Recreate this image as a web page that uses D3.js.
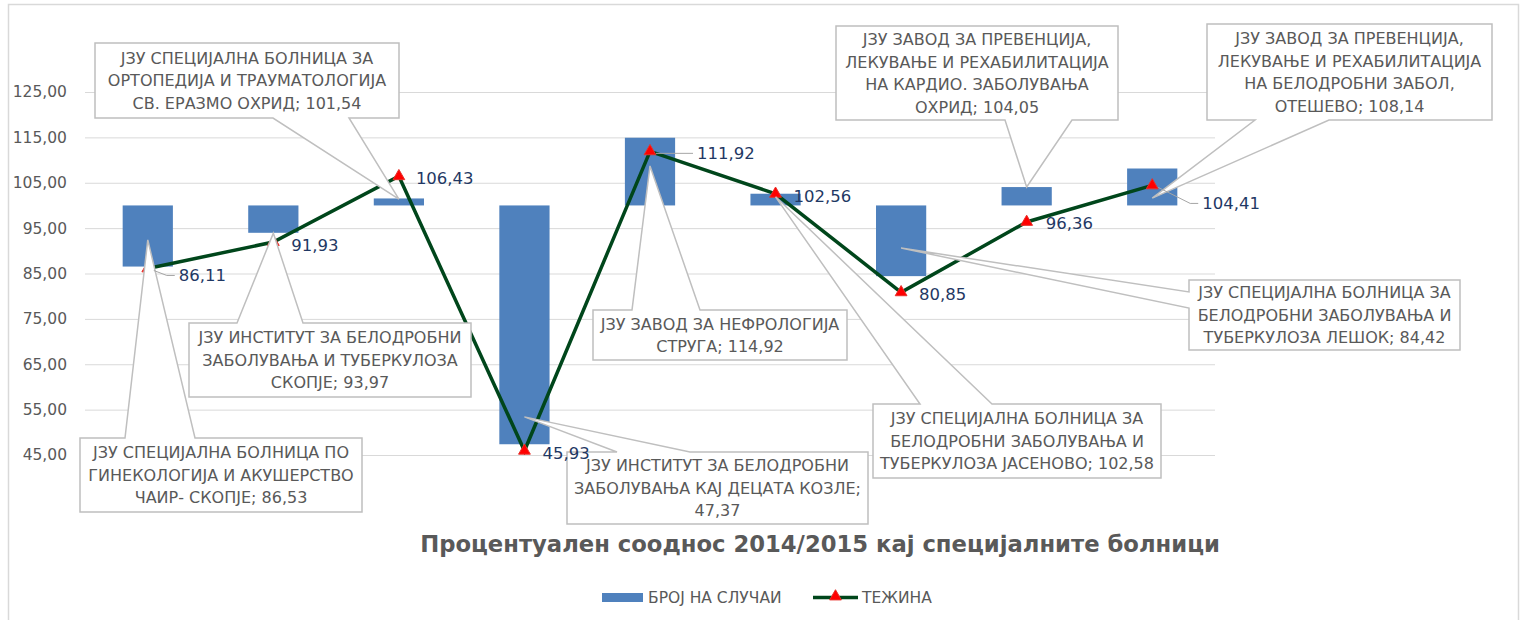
<!DOCTYPE html>
<html>
<head>
<meta charset="utf-8">
<script src="https://cdn.jsdelivr.net/npm/d3@7"></script>
<style>
  body { margin: 0; background: #fff; }
  svg text { font-family: "DejaVu Sans", sans-serif; }
</style>
</head>
<body>
<svg id="chart" width="1526" height="620"></svg>
<script>
// data
var hospitals = [
  'ЈЗУ СПЕЦИЈАЛНА БОЛНИЦА ПО\nГИНЕКОЛОГИЈА И АКУШЕРСТВО\nЧАИР- СКОПЈЕ',
  'ЈЗУ ИНСТИТУТ ЗА БЕЛОДРОБНИ\nЗАБОЛУВАЊА И ТУБЕРКУЛОЗА\nСКОПЈЕ',
  'ЈЗУ СПЕЦИЈАЛНА БОЛНИЦА ЗА\nОРТОПЕДИЈА И ТРАУМАТОЛОГИЈА\nСВ. ЕРАЗМО ОХРИД',
  'ЈЗУ ИНСТИТУТ ЗА БЕЛОДРОБНИ\nЗАБОЛУВАЊА КАЈ ДЕЦАТА КОЗЛЕ',
  'ЈЗУ ЗАВОД ЗА НЕФРОЛОГИЈА\nСТРУГА',
  'ЈЗУ СПЕЦИЈАЛНА БОЛНИЦА ЗА\nБЕЛОДРОБНИ ЗАБОЛУВАЊА И\nТУБЕРКУЛОЗА ЈАСЕНОВО',
  'ЈЗУ СПЕЦИЈАЛНА БОЛНИЦА ЗА\nБЕЛОДРОБНИ ЗАБОЛУВАЊА И\nТУБЕРКУЛОЗА ЛЕШОК',
  'ЈЗУ ЗАВОД ЗА ПРЕВЕНЦИЈА,\nЛЕКУВАЊЕ И РЕХАБИЛИТАЦИЈА\nНА КАРДИО. ЗАБОЛУВАЊА\nОХРИД',
  'ЈЗУ ЗАВОД ЗА ПРЕВЕНЦИЈА,\nЛЕКУВАЊЕ И РЕХАБИЛИТАЦИЈА\nНА БЕЛОДРОБНИ ЗАБОЛ,\nОТЕШЕВО'
]
var cases = [86.53, 93.97, 101.54, 47.37, 114.92, 102.58, 84.42, 104.05, 108.14]
var weights = [86.11, 91.93, 106.43, 45.93, 111.92, 102.56, 80.85, 96.36, 104.41]
var yTicks = [45, 55, 65, 75, 85, 95, 105, 115, 125]
var seriesNames = ['БРОЈ НА СЛУЧАИ', 'ТЕЖИНА']
var title = 'Процентуален сооднос 2014/2015 кај специјалните болници'
var BASE = 100

// callout layout (pixels), anchor given as a value on the y axis
var callouts = [
  { box: [80, 438, 282, 74], side: 'top', base: [125, 195], at: 92.4 },
  { box: [189, 323, 282, 74], side: 'top', base: [237, 303], at: 93.9 },
  { box: [95, 43, 304, 75], side: 'bottom', base: [273, 349], at: 101.4 },
  { box: [567, 452, 301, 72], side: 'top', base: [617, 690], at: 53.4, valueLine: true },
  { box: [593, 310, 254, 50], side: 'top', base: [632, 700], at: 108.7 },
  { box: [873, 404, 288, 74], side: 'top', base: [920, 992], at: 101.9 },
  { box: [1189, 280, 271, 70], side: 'left', base: [292, 308], at: 90.6 },
  { box: [836, 26, 282, 94], side: 'bottom', base: [1005, 1072], at: 104.06 },
  { box: [1207, 24, 285, 96], side: 'bottom', base: [1255, 1329], at: 101.6 }
]
// line value labels: offsets from the point
var labelPos = [
  { dx: 31, dy: 7, leader: true },
  { dx: 18, dy: 3 },
  { dx: 17, dy: 2 },
  { dx: 18, dy: 2 },
  { dx: 47, dy: 2, leader: true },
  { dx: 18, dy: 2 },
  { dx: 18, dy: 2 },
  { dx: 19, dy: 1 },
  { dx: 50, dy: 18, leader: true }
]

var fmt = function (v) { return d3.format('.2f')(v).replace('.', ',') }

var svg = d3.select('#chart')
var idx = d3.range(hospitals.length)

var x = d3.scaleBand().domain(idx).range([85, 1215]).paddingInner(0.6).paddingOuter(0.3)
var y = d3.scaleLinear().domain([45, 125]).range([455, 92])
var cx = function (i) { return x(i) + x.bandwidth() / 2 }

// chart frame
svg.append('rect')
  .attr('x', 8.5).attr('y', 4.5).attr('width', 1510).attr('height', 640)
  .attr('fill', 'none').attr('stroke', '#d9d9d9').attr('stroke-width', 1.5)

// axis + gridlines
var yAxis = svg.append('g')
  .attr('transform', 'translate(85,0)')
  .call(d3.axisLeft(y).tickValues(yTicks).tickSize(-(1215 - 85)).tickPadding(18).tickFormat(fmt))
yAxis.select('.domain').remove()
yAxis.selectAll('.tick line').attr('stroke', '#d9d9d9').attr('stroke-width', 1)
yAxis.selectAll('.tick text')
  .attr('fill', '#595959').attr('font-size', 15.5)
  .style('font-family', '"DejaVu Sans", sans-serif')

// bars from the 100 baseline
svg.append('g').selectAll('rect')
  .data(idx)
  .join('rect')
  .attr('x', function (i) { return x(i) })
  .attr('width', x.bandwidth())
  .attr('y', function (i) { return y(Math.max(cases[i], BASE)) })
  .attr('height', function (i) { return Math.abs(y(cases[i]) - y(BASE)) })
  .attr('fill', '#4f81bd')

// weight line
var line = d3.line()
  .x(function (i) { return cx(i) })
  .y(function (i) { return y(weights[i]) })
svg.append('path')
  .datum(idx)
  .attr('d', line)
  .attr('fill', 'none')
  .attr('stroke', '#00461b')
  .attr('stroke-width', 3.5)
  .attr('stroke-linejoin', 'miter')

var tri = d3.symbol().type(d3.symbolTriangle).size(60)
svg.append('g').selectAll('path')
  .data(idx)
  .join('path')
  .attr('d', tri)
  .attr('transform', function (i) { return 'translate(' + cx(i) + ',' + y(weights[i]) + ')' })
  .attr('fill', '#ff0000')
  .attr('stroke', '#e8302a')
  .attr('stroke-width', 1)

// callouts
function calloutPath (c, ax, ay) {
  var l = c.box[0], t = c.box[1], r = l + c.box[2], b = t + c.box[3]
  var p = d3.path()
  if (c.side === 'top') {
    p.moveTo(l, t); p.lineTo(c.base[0], t); p.lineTo(ax, ay); p.lineTo(c.base[1], t)
    p.lineTo(r, t); p.lineTo(r, b); p.lineTo(l, b)
  } else if (c.side === 'bottom') {
    p.moveTo(l, t); p.lineTo(r, t); p.lineTo(r, b); p.lineTo(c.base[1], b)
    p.lineTo(ax, ay); p.lineTo(c.base[0], b); p.lineTo(l, b)
  } else {
    p.moveTo(l, t); p.lineTo(r, t); p.lineTo(r, b); p.lineTo(l, b)
    p.lineTo(l, c.base[1]); p.lineTo(ax, ay); p.lineTo(l, c.base[0])
  }
  p.closePath()
  return p.toString()
}

var cg = svg.append('g').selectAll('g')
  .data(idx)
  .join('g')
cg.append('path')
  .attr('d', function (i) { return calloutPath(callouts[i], cx(i), y(callouts[i].at)) })
  .attr('fill', '#fff')
  .attr('stroke', '#bfbfbf')
  .attr('stroke-width', 1.5)
  .attr('stroke-linejoin', 'miter')
cg.each(function (i) {
  var c = callouts[i]
  var txt = hospitals[i] + ';' + (c.valueLine ? '\n' : ' ') + fmt(cases[i])
  var lines = txt.split('\n')
  var mid = c.box[1] + c.box[3] / 2
  var lh = 22.5
  var t = d3.select(this).append('text')
    .attr('text-anchor', 'middle')
    .attr('fill', '#595959')
    .attr('font-size', 16)
  lines.forEach(function (s, k) {
    t.append('tspan')
      .attr('x', c.box[0] + c.box[2] / 2)
      .attr('y', mid + (k - (lines.length - 1) / 2) * lh)
      .attr('dy', '0.36em')
      .text(s)
  })
  // keep long lines inside the box
  t.selectAll('tspan').each(function () {
    var w = this.getComputedTextLength()
    if (w > c.box[2] - 10) d3.select(this).attr('textLength', c.box[2] - 10).attr('lengthAdjust', 'spacingAndGlyphs')
  })
})

// line value labels
var lg = svg.append('g')
lg.selectAll('path')
  .data(idx.filter(function (i) { return labelPos[i].leader }))
  .join('path')
  .attr('d', function (i) {
    var px = cx(i), py = y(weights[i])
    var lx = px + labelPos[i].dx, ly = py + labelPos[i].dy
    return 'M' + (px + 6) + ',' + (py + 2) + 'L' + (lx - 12) + ',' + ly + 'L' + (lx - 4) + ',' + ly
  })
  .attr('fill', 'none')
  .attr('stroke', '#a6a6a6')
  .attr('stroke-width', 1)
lg.selectAll('text')
  .data(idx)
  .join('text')
  .attr('x', function (i) { return cx(i) + labelPos[i].dx })
  .attr('y', function (i) { return y(weights[i]) + labelPos[i].dy })
  .attr('dy', '0.36em')
  .attr('fill', '#1f3864')
  .attr('font-size', 16.5)
  .text(function (i) { return fmt(weights[i]) })

// title
var tt = svg.append('text')
  .attr('x', 820).attr('y', 552)
  .attr('text-anchor', 'middle')
  .attr('fill', '#595959')
  .attr('font-size', 22)
  .attr('font-weight', 'bold')
  .text(title)
var tw = tt.node().getComputedTextLength()
tt.attr('font-size', Math.max(19, Math.min(24, 22 * 800 / tw)))

// legend
var leg = svg.append('g')
leg.append('rect')
  .attr('x', 602).attr('y', 593).attr('width', 41).attr('height', 9)
  .attr('fill', '#4f81bd')
leg.append('text')
  .attr('x', 648).attr('y', 597.5).attr('dy', '0.36em')
  .attr('fill', '#595959').attr('font-size', 15.5)
  .text(seriesNames[0])
leg.append('line')
  .attr('x1', 813).attr('x2', 858).attr('y1', 597.5).attr('y2', 597.5)
  .attr('stroke', '#00461b').attr('stroke-width', 3.5)
leg.append('path')
  .attr('d', tri)
  .attr('transform', 'translate(835.5,596.5)')
  .attr('fill', '#ff0000').attr('stroke', '#e8302a')
leg.append('text')
  .attr('x', 862).attr('y', 597.5).attr('dy', '0.36em')
  .attr('fill', '#595959').attr('font-size', 15.5)
  .text(seriesNames[1])
</script>
</body>
</html>
